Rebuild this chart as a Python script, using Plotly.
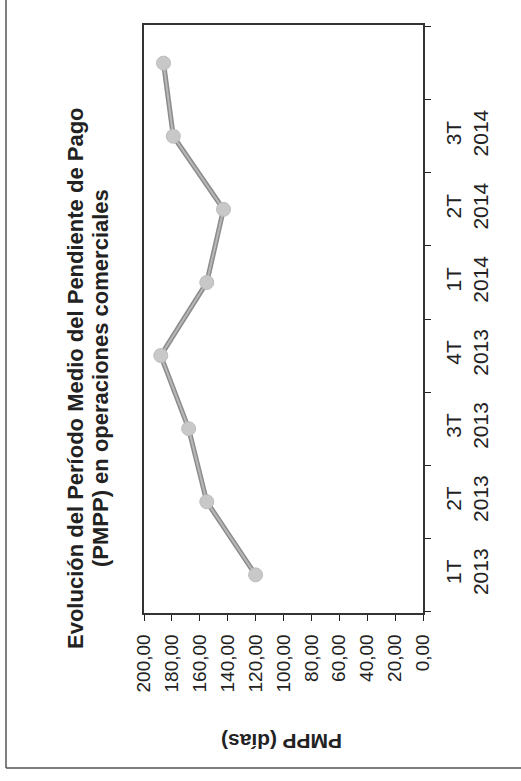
import plotly.graph_objs as go

# datos (PMPP en dias por trimestre)
periodos = ["1T 2013", "2T 2013", "3T 2013", "4T 2013", "1T 2014", "2T 2014", "3T 2014", "4T 2014"]
etiquetas = ["1T<br>2013", "2T<br>2013", "3T<br>2013", "4T<br>2013", "1T<br>2014", "2T<br>2014", "3T<br>2014", ""]
pmpp = [120, 155, 168, 188, 155, 143, 179, 186]
ticks_valor = [0, 20, 40, 60, 80, 100, 120, 140, 160, 180, 200]

W, H = 521, 781
L, R, T, B = 144, 423, 25, 613  # plot area in pixels

def px_x(x):
    return (x - L) / (R - L)

def px_y(y):
    return (B - y) / (B - T)

FONT = "Liberation Sans, Arial, sans-serif"

fig = go.Figure()
# darker outer line + lighter inner line to mimic the scanned grey line
fig.add_trace(go.Scatter(x=pmpp, y=periodos, mode='lines',
                         line=dict(color='#8c8c8c', width=5), hoverinfo='skip'))
fig.add_trace(go.Scatter(x=pmpp, y=periodos, mode='lines+markers',
                         line=dict(color='#b8b8b8', width=2),
                         marker=dict(size=14, color='#c8c8c8',
                                     line=dict(color='#bdbdbd', width=1))))

fig.update_layout(
    width=W, height=H,
    margin=dict(l=L, r=W - R, t=T, b=H - B),
    paper_bgcolor='white', plot_bgcolor='white',
    showlegend=False,
    separators=',.',
    font=dict(family=FONT, size=20, color='#222'),
)

fig.update_xaxes(
    range=[200, 0], tickvals=ticks_valor, tickformat='.2f',
    tickangle=-90, ticks='outside', ticklen=6, tickcolor='#222',
    ticklabelstandoff=6,
    showgrid=False, zeroline=False,
    showline=True, linecolor='#333', linewidth=1.5, mirror=True,
    tickfont=dict(size=19, family=FONT),
)
fig.update_yaxes(
    type='category', categoryorder='array', categoryarray=periodos,
    tickvals=periodos, ticktext=etiquetas,
    side='right', tickson='boundaries', tickangle=-90,
    ticks='outside', ticklen=6, tickcolor='#222',
    ticklabelstandoff=11,
    showgrid=False, zeroline=False,
    showline=True, linecolor='#333', linewidth=1.5, mirror=True,
    tickfont=dict(size=21, family=FONT),
)

# chart title, rotated like the scanned page (one annotation per line)
titulo = ["Evolución del Período Medio del Pendiente de Pago",
          "(PMPP) en operaciones comerciales"]
for linea, cx in zip(titulo, [75, 100]):
    fig.add_annotation(
        text="<b>" + linea + "</b>",
        xref='paper', yref='paper', x=px_x(cx), y=px_y(378),
        xanchor='center', yanchor='middle', textangle=-90, showarrow=False,
        font=dict(size=22, family=FONT, color='#222'),
    )
# axis title (upside down)
fig.add_annotation(
    text="<b>PMPP (días)</b>",
    xref='paper', yref='paper', x=px_x(282), y=px_y(742),
    xanchor='center', yanchor='middle', textangle=180, showarrow=False,
    font=dict(size=21, family=FONT, color='#222'),
)

# outer frame of the page (left and bottom edges visible)
fig.add_shape(type='line', xref='paper', yref='paper',
              x0=px_x(6), x1=px_x(6), y0=px_y(0), y1=px_y(768),
              line=dict(color='#555', width=1.5))
fig.add_shape(type='line', xref='paper', yref='paper',
              x0=px_x(6), x1=px_x(W), y0=px_y(768), y1=px_y(768),
              line=dict(color='#555', width=1.5))

fig.write_html("out.html", config={'displayModeBar': False},
               post_script="document.body.style.margin='0';")
